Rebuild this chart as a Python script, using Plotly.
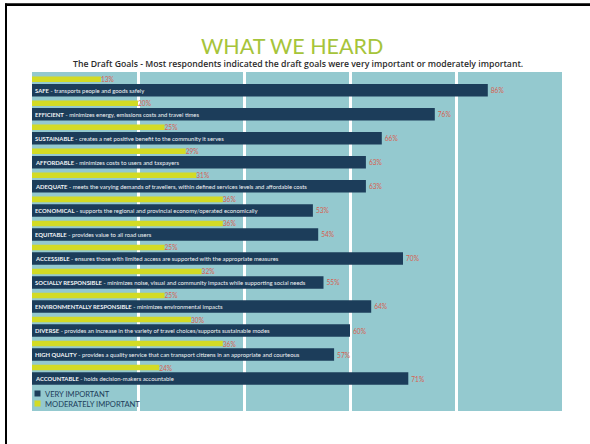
import plotly.graph_objects as go

categories = ["SAFE", "EFFICIENT", "SUSTAINABLE", "AFFORDABLE", "ADEQUATE", "ECONOMICAL",
              "EQUITABLE", "ACCESSIBLE", "SOCIALLY RESPONSIBLE", "ENVIRONMENTALLY RESPONSIBLE",
              "DIVERSE", "HIGH QUALITY", "ACCOUNTABLE"]
descriptions = [
    "transports people and goods safely",
    "minimizes energy, emissions costs and travel times",
    "creates a net positive benefit to the community it serves",
    "minimizes costs to users and taxpayers",
    "meets the varying demands of travellers, within defined services levels and affordable costs",
    "supports the regional and provincial economy/operated economically",
    "provides value to all road users",
    "ensures those with limited access are supported with the appropriate measures",
    "minimizes noise, visual and community impacts while supporting social needs",
    "minimizes environmental impacts",
    "provides an increase in the variety of travel choices/supports sustainable modes",
    "provides a quality service that can transport citizens in an appropriate and courteous",
    "holds decision-makers accountable",
]
very_important = [86, 76, 66, 63, 63, 53, 54, 70, 55, 64, 60, 57, 71]
moderately_important = [13, 20, 25, 29, 31, 36, 36, 25, 32, 25, 30, 36, 24]
series_names = ["VERY IMPORTANT", "MODERATELY IMPORTANT"]

NAVY = "#1c3d5a"
YELLOW = "#d3db25"
TEAL = "#94c9cf"
RED = "#d8604f"
GREEN = "#a6c43a"
FONT = "Lato"

W, H = 590, 444
L, R, T, B = 32, 28, 72, 33
PW, PH = W - L - R, H - T - B


def px_x(p):
    return (p - L) / PW


def px_y(p):
    return (H - B - p) / PH


fig = go.Figure()
fig.add_trace(go.Bar(
    y=categories, x=very_important, orientation="h", name=series_names[0],
    width=0.52, offset=-0.26, marker=dict(color=NAVY, line=dict(width=0)),
    text=[f"{v}%" for v in very_important], textposition="outside",
    textfont=dict(color=RED, size=6.6, family=FONT), constraintext="none",
    cliponaxis=False, showlegend=False, hoverinfo="skip"))
fig.add_trace(go.Bar(
    y=categories, x=moderately_important, orientation="h", name=series_names[1],
    width=0.23, offset=-0.573, marker=dict(color=YELLOW, line=dict(width=0)),
    text=[f"{v}%" for v in moderately_important], textposition="outside",
    textfont=dict(color=RED, size=6.6, family=FONT), constraintext="none",
    cliponaxis=False, showlegend=False, hoverinfo="skip"))

annotations = []
for cat, desc in zip(categories, descriptions):
    annotations.append(dict(
        x=0, y=cat, xref="x", yref="y", xanchor="left", yanchor="middle", xshift=1,
        text=f"<b>{cat}</b> - {desc}", showarrow=False,
        font=dict(color="#f2f4f6", size=5.9, family=FONT)))

annotations.append(dict(
    x=px_x(292), y=px_y(46), xref="paper", yref="paper", xanchor="center", yanchor="middle",
    text="WHAT WE HEARD", showarrow=False,
    font=dict(color=GREEN, size=21.5, family=FONT)))
annotations.append(dict(
    x=px_x(298), y=px_y(64), xref="paper", yref="paper", xanchor="center", yanchor="middle",
    text="The Draft Goals - Most respondents indicated the draft goals were very important or moderately important.",
    showarrow=False, font=dict(color="#2b2b2b", size=8.7, family="Open Sans", weight=600)))

legend_rows = [(393.5, NAVY, series_names[0]), (403.5, YELLOW, series_names[1])]
shapes = []
for yc, col, name in legend_rows:
    shapes.append(dict(type="rect", xref="paper", yref="paper",
                       x0=px_x(34.5), x1=px_x(40.5), y0=px_y(yc + 3), y1=px_y(yc - 3),
                       fillcolor=col, line=dict(width=0)))
    annotations.append(dict(
        x=px_x(42.5), y=px_y(yc), xref="paper", yref="paper", xanchor="left", yanchor="middle",
        text=name, showarrow=False, font=dict(color=NAVY, size=7.6, family=FONT)))

# slide frame lines (top and left)
shapes.append(dict(type="line", xref="paper", yref="paper",
                   x0=px_x(5), x1=px_x(592), y0=px_y(4.7), y1=px_y(4.7),
                   line=dict(color="black", width=2.7)))
shapes.append(dict(type="line", xref="paper", yref="paper",
                   x0=px_x(6), x1=px_x(6), y0=px_y(3.5), y1=px_y(446),
                   line=dict(color="black", width=2)))

fig.update_layout(
    width=W, height=H,
    margin=dict(l=L, r=R, t=T, b=B, pad=0),
    paper_bgcolor="white", plot_bgcolor=TEAL,
    barmode="overlay", showlegend=False,
    xaxis=dict(range=[0, 100], tickvals=[20, 40, 60, 80], showticklabels=False,
               showgrid=True, gridcolor="white", gridwidth=2.7, zeroline=False,
               showline=False, ticks="", fixedrange=True),
    yaxis=dict(type="category", categoryorder="array", categoryarray=categories,
               range=[13.35, -0.76], showticklabels=False, showgrid=False,
               zeroline=False, showline=False, ticks="", fixedrange=True),
    annotations=annotations, shapes=shapes,
    font=dict(family=FONT),
)

fig.write_html("out.html", config={"displayModeBar": False})
